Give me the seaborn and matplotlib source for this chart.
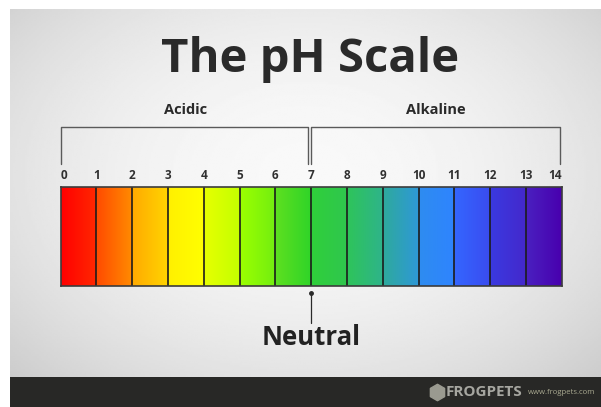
import numpy as np
import pandas as pd
import matplotlib
matplotlib.use("Agg")
import matplotlib.pyplot as plt
import seaborn as sns
from matplotlib.colors import ListedColormap, LinearSegmentedColormap

# Data
ph_levels = list(range(14))
tick_labels = [str(i) for i in range(15)]
start_colors = ["#ff0000", "#ff4a00", "#ffaa00", "#fff000", "#e6ff00", "#9cff00", "#5ee020",
                "#2fd03a", "#2ec45a", "#2eaa9c", "#2e8cf0", "#3466ff", "#3a3ae0", "#4a20c0"]
end_colors = ["#ff2800", "#ff8a00", "#ffd400", "#ffff00", "#c4ff00", "#72ee10", "#30d428",
              "#30c64e", "#2eb48a", "#2e98d8", "#2e84ff", "#3a4cf0", "#4428cc", "#4800ae"]
group_labels = ["Acidic", "Alkaline"]

sns.set_theme(style="white")
plt.rcParams["font.family"] = ["Open Sans", "DejaVu Sans"]

fig = plt.figure(figsize=(6.01, 4.07), dpi=100, facecolor="white")
W, H = 601, 407

# Background panel with soft radial gradient
bg = fig.add_axes([10 / W, 30 / H, 591 / W, 368 / H])
yy, xx = np.mgrid[-1:1:200j, -1:1:300j]
r2 = (xx * 0.9) ** 2 + ((yy + 0.1) * 0.8) ** 2
bg.imshow(0.975 - 0.11 * r2, cmap="gray", vmin=0, vmax=1, aspect="auto", extent=(0, 1, 0, 1))
bg.set_axis_off()

# Footer bar
foot = fig.add_axes([10 / W, 0, 591 / W, 30 / H])
foot.set_facecolor("#282826")
foot.set_xticks([])
foot.set_yticks([])
for s in foot.spines.values():
    s.set_visible(False)
foot.scatter([437], [15], marker="h", s=140, color="#9a9a90", transform=None)
fig.text(446 / W, 15 / H, "FROGPETS", fontsize=11, fontweight="bold", color="#a6a6a0",
         ha="left", va="center")
fig.text(528 / W, 15 / H, "www.frogpets.com", fontsize=5.6, color="#a8a890",
         ha="left", va="center")

# pH bar
ax = fig.add_axes([60.7 / W, (H - 285.7) / H, 501 / W, 98.7 / H])
df = pd.DataFrame([ph_levels], columns=ph_levels)
sns.heatmap(df, ax=ax, cmap=ListedColormap(start_colors), cbar=False,
            xticklabels=False, yticklabels=False)
ramp = np.linspace(0, 1, 64)[None, :]
for i in ph_levels:
    cm = LinearSegmentedColormap.from_list("seg%d" % i, [start_colors[i], end_colors[i]])
    ax.imshow(ramp, cmap=cm, extent=(i, i + 1, 1, 0), aspect="auto", zorder=2)
ax.vlines(ph_levels[1:], 0, 1, color="#1c1c1c", lw=1.2, zorder=3)
ax.set_xlim(0, 14)
ax.set_ylim(1, 0)
for s in ax.spines.values():
    s.set_visible(True)
    s.set_color("#3c3c3c")
    s.set_linewidth(1.2)
    s.set_zorder(4)

ax.set_xticks(range(15))
ax.set_xticklabels(tick_labels, fontsize=8.5, fontweight="bold", color="#303030")
ax.tick_params(top=True, labeltop=True, bottom=False, labelbottom=False, length=0, pad=3.5)
ax.get_xticklabels()[0].set_ha("left")
ax.get_xticklabels()[-1].set_ha("right")

# Brackets
line_kw = dict(color="#5a5a5a", lw=1.0, clip_on=False)
ax.plot([0.01, 0.01, 6.92, 6.92], [-0.23, -0.61, -0.61, -0.23], **line_kw)
ax.plot([7.0, 7.0, 13.96, 13.96], [-0.23, -0.61, -0.61, -0.23], **line_kw)
ax.text(3.48, -0.71, group_labels[0], fontsize=10.5, fontweight="bold", color="#2a2a2a",
        ha="center", va="bottom")
ax.text(10.48, -0.71, group_labels[1], fontsize=10.5, fontweight="bold", color="#2a2a2a",
        ha="center", va="bottom")

# Neutral marker
ax.plot([7.0], [1.075], marker="o", ms=2.5, color="#2a2a2a", clip_on=False)
ax.plot([7.0, 7.0], [1.075, 1.38], color="#2a2a2a", lw=0.9, clip_on=False)
ax.text(7.0, 1.52, "Neutral", fontsize=18.5, fontweight="bold", color="#222222",
        ha="center", va="center")

# Title
fig.text(310 / W, 1 - 72 / H, "The pH Scale", fontsize=34, fontweight="bold",
         color="#2a2a2a", ha="center", va="baseline")

fig.savefig("out.png", dpi=100, facecolor="white")
